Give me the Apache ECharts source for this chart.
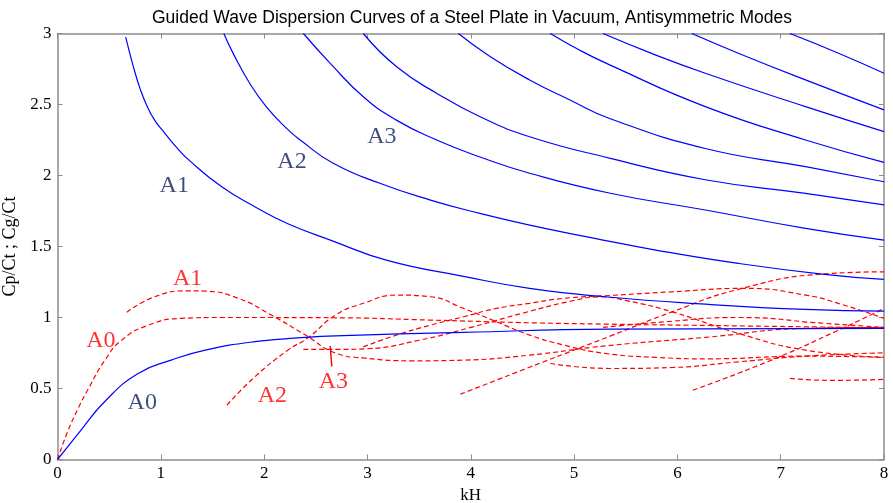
<!DOCTYPE html>
<html>
<head>
<meta charset="utf-8">
<script src="https://cdn.jsdelivr.net/npm/echarts@6/dist/echarts.min.js"></script>
<style>
  html, body { margin: 0; padding: 0; background: #fff; }
  #chart { width: 893px; height: 503px; }
</style>
</head>
<body>
<div id="chart"></div>
<script>
// --- data: [kH, C/Ct] ---
var xTicks = [0, 1, 2, 3, 4, 5, 6, 7, 8];
var yTicks = [0, 0.5, 1, 1.5, 2, 2.5, 3];

// phase velocity Cp/Ct, antisymmetric modes A0..A9 (solid blue)
var cpA0 = [[0,0],[0.1,0.09],[0.22,0.2],[0.46,0.41],[0.78,0.606],[1.1,0.7],[1.43,0.77],[1.91,0.83],[2.4,0.86],[2.69,0.871],[3.93,0.895],[5.35,0.918],[8,0.923]];
var cpA1 = [[0.66,2.974],[0.734,2.767],[0.8,2.61],[0.86,2.5],[0.94,2.39],[1.04,2.297],[1.15,2.2],[1.27,2.11],[1.59,1.92],[1.91,1.78],[2.23,1.66],[2.66,1.54],[3.2,1.4],[3.93,1.29],[4.57,1.205],[5.3,1.146],[6.27,1.094],[7.24,1.057],[8,1.045]];
var cpA2 = [[1.61,3.0],[1.7,2.86],[1.86,2.65],[2.02,2.485],[2.22,2.33],[2.35,2.25],[2.66,2.09],[3.12,1.945],[3.61,1.827],[4.09,1.733],[4.57,1.651],[5.32,1.54],[5.79,1.475],[6.59,1.381],[7.4,1.306],[8,1.268]];
var cpA3 = [[2.38,3.0],[2.64,2.79],[2.96,2.555],[3.28,2.39],[3.67,2.25],[4.09,2.13],[4.57,2.016],[5.35,1.875],[6.27,1.757],[7.24,1.628],[8,1.545]];
var cpA4 = [[2.96,3.0],[3.28,2.767],[3.67,2.579],[4.09,2.414],[4.57,2.273],[5.35,2.121],[6.27,1.97],[7.24,1.874],[8,1.793]];
var cpA5 = [[3.88,3.0],[4.19,2.837],[4.57,2.673],[4.96,2.532],[5.35,2.4],[6.27,2.19],[7.24,2.062],[8,1.956]];
var cpA6 = [[4.77,3.0],[5.06,2.88],[5.35,2.777],[6.27,2.485],[7.24,2.25],[8,2.093]];
var cpA7 = [[5.28,3.0],[5.75,2.86],[6.27,2.72],[7.24,2.485],[8,2.309]];
var cpA8 = [[6.14,3.0],[6.59,2.861],[7.24,2.673],[8,2.462]];
var cpA9 = [[7.09,3.0],[7.56,2.861],[8,2.72]];

// group velocity Cg/Ct (dashed red)
var cgA0 = [[0,0],[0.1,0.2],[0.2,0.36],[0.3,0.5],[0.46,0.7],[0.62,0.84],[0.88,0.946],[1.2,0.994],[1.6,1.0],[2.7,0.998],[3.6,0.982],[4.57,0.963],[5.35,0.953],[6.27,0.944],[8,0.927]];
var cgA1 = [[0.67,1.036],[0.94,1.146],[1.27,1.188],[1.43,1.186],[1.75,1.135],[2.07,1.017],[2.4,0.876],[2.69,0.75],[2.96,0.715],[3.44,0.695],[3.93,0.7],[4.57,0.735],[5.3,0.8],[6.27,0.86],[7.24,0.923],[8,0.93]];
var cgA2 = [[1.64,0.383],[1.91,0.582],[2.23,0.77],[2.43,0.86],[2.69,1.017],[2.96,1.1],[3.28,1.158],[3.61,1.146],[3.93,1.064],[4.25,0.97],[4.57,0.876],[4.9,0.806],[5.3,0.747],[5.8,0.719],[6.3,0.709],[7.24,0.728],[8,0.719]];
var cgA3 = [[2.38,0.775],[2.7,0.775],[3.0,0.78],[3.5,0.84],[4.0,0.93],[4.5,1.03],[5.0,1.12],[5.25,1.145],[5.5,1.12],[5.95,1.04],[6.59,0.888],[7.24,0.77],[8,0.72]];
var cgA4 = [[2.96,0.793],[3.28,0.876],[3.61,0.946],[3.93,1.005],[4.25,1.064],[4.57,1.1],[4.9,1.135],[5.35,1.155],[5.95,1.181],[6.65,1.205],[7.24,1.158],[7.6,1.09],[8,0.994]];
var cgA5 = [[3.9,0.46],[4.57,0.65],[5.35,0.869],[5.95,1.04],[6.59,1.198],[7.4,1.306],[8,1.322]];
var cgA6 = [[4.77,0.676],[5.35,0.641],[5.95,0.648],[6.59,0.688],[7.24,0.728],[8,0.751]];
var cgA7 = [[5.28,0.93],[5.8,0.965],[6.6,1.0],[7.4,0.96],[8,0.93]];
var cgA8 = [[6.15,0.488],[6.91,0.7],[7.56,0.911],[8,1.064]];
var cgA9 = [[7.09,0.571],[7.5,0.557],[8,0.564]];

var phaseCurves = [cpA0, cpA1, cpA2, cpA3, cpA4, cpA5, cpA6, cpA7, cpA8, cpA9];
var groupCurves = [cgA0, cgA1, cgA2, cgA3, cgA4, cgA5, cgA6, cgA7, cgA8, cgA9];

// mode labels [kH, C/Ct, text]
var blueLabels = [[0.82, 0.4, 'A0'], [1.13, 1.93, 'A1'], [2.27, 2.1, 'A2'], [3.14, 2.27, 'A3']];
var redLabels = [[0.42, 0.84, 'A0'], [1.26, 1.27, 'A1'], [2.08, 0.45, 'A2'], [2.67, 0.55, 'A3']];
var a3Leader = [[2.64, 0.8], [2.655, 0.655]];

var serif = '"Liberation Serif", "DejaVu Serif", serif';
var axisGray = '#8c8c8c';

var series = [];
phaseCurves.forEach(function (d) {
  series.push({
    type: 'line', data: d, showSymbol: false, smooth: 0.5,
    lineStyle: { color: '#0000ff', width: 1.2 }, z: 3
  });
});
groupCurves.forEach(function (d) {
  series.push({
    type: 'line', data: d, showSymbol: false, smooth: 0.5,
    lineStyle: { color: '#ff0000', width: 1.2, type: [5, 3] }, z: 2
  });
});
series.push({
  type: 'line', data: a3Leader, showSymbol: false,
  lineStyle: { color: '#ff0000', width: 1.4 }
});
function labelSeries(list, color) {
  return {
    type: 'scatter', symbolSize: 0, z: 5,
    data: list.map(function (l) { return { value: [l[0], l[1]], name: l[2] }; }),
    label: {
      show: true, position: 'inside', formatter: '{b}',
      color: color, fontFamily: serif, fontSize: 24
    }
  };
}
series.push(labelSeries(blueLabels, '#0d1f5c'));
series.push(labelSeries(redLabels, '#ff0000'));

var chart = echarts.init(document.getElementById('chart'), null, { renderer: 'canvas' });
var tickLine = { show: true, inside: true, length: 5, lineStyle: { color: axisGray } };
chart.setOption({
  animation: false,
  title: {
    text: 'Guided Wave Dispersion Curves of a Steel Plate in Vacuum, Antisymmetric Modes',
    left: 467, top: 4, textAlign: 'center',
    textStyle: { fontFamily: '"Liberation Sans", Arial, sans-serif', fontWeight: 'normal', fontSize: 17.5, color: '#000' }
  },
  grid: { left: 57.5, top: 33.5, width: 826.5, height: 426, outerBoundsMode: 'none', containLabel: false },
  xAxis: [{
    type: 'value', min: 0, max: 8, interval: 1, position: 'bottom',
    name: 'kH', nameLocation: 'middle', nameGap: 22,
    nameTextStyle: { fontFamily: serif, fontSize: 17, color: '#000' },
    axisLine: { show: true, onZero: false, lineStyle: { color: axisGray, width: 1.5 } },
    axisTick: tickLine,
    axisLabel: { fontFamily: serif, fontSize: 17, color: '#000', margin: 6,
      formatter: function (v) { return xTicks.indexOf(v) >= 0 ? String(v) : ''; } },
    splitLine: { show: false }
  }, {
    type: 'value', min: 0, max: 8, interval: 1, position: 'top',
    axisLine: { show: true, onZero: false, lineStyle: { color: axisGray, width: 1.5 } },
    axisTick: tickLine, axisLabel: { show: false }, splitLine: { show: false }
  }],
  yAxis: [{
    type: 'value', min: 0, max: 3, interval: 0.5, position: 'left',
    name: 'Cp/Ct ; Cg/Ct', nameLocation: 'middle', nameGap: 36, nameRotate: 90,
    nameTextStyle: { fontFamily: serif, fontSize: 18, color: '#000' },
    axisLine: { show: true, onZero: false, lineStyle: { color: axisGray, width: 1.5 } },
    axisTick: tickLine,
    axisLabel: { fontFamily: serif, fontSize: 17, color: '#000', margin: 6,
      formatter: function (v) { return yTicks.indexOf(v) >= 0 ? String(v) : ''; } },
    splitLine: { show: false }
  }, {
    type: 'value', min: 0, max: 3, interval: 0.5, position: 'right',
    axisLine: { show: true, onZero: false, lineStyle: { color: axisGray, width: 1.5 } },
    axisTick: tickLine, axisLabel: { show: false }, splitLine: { show: false }
  }],
  series: series
});
</script>
</body>
</html>
